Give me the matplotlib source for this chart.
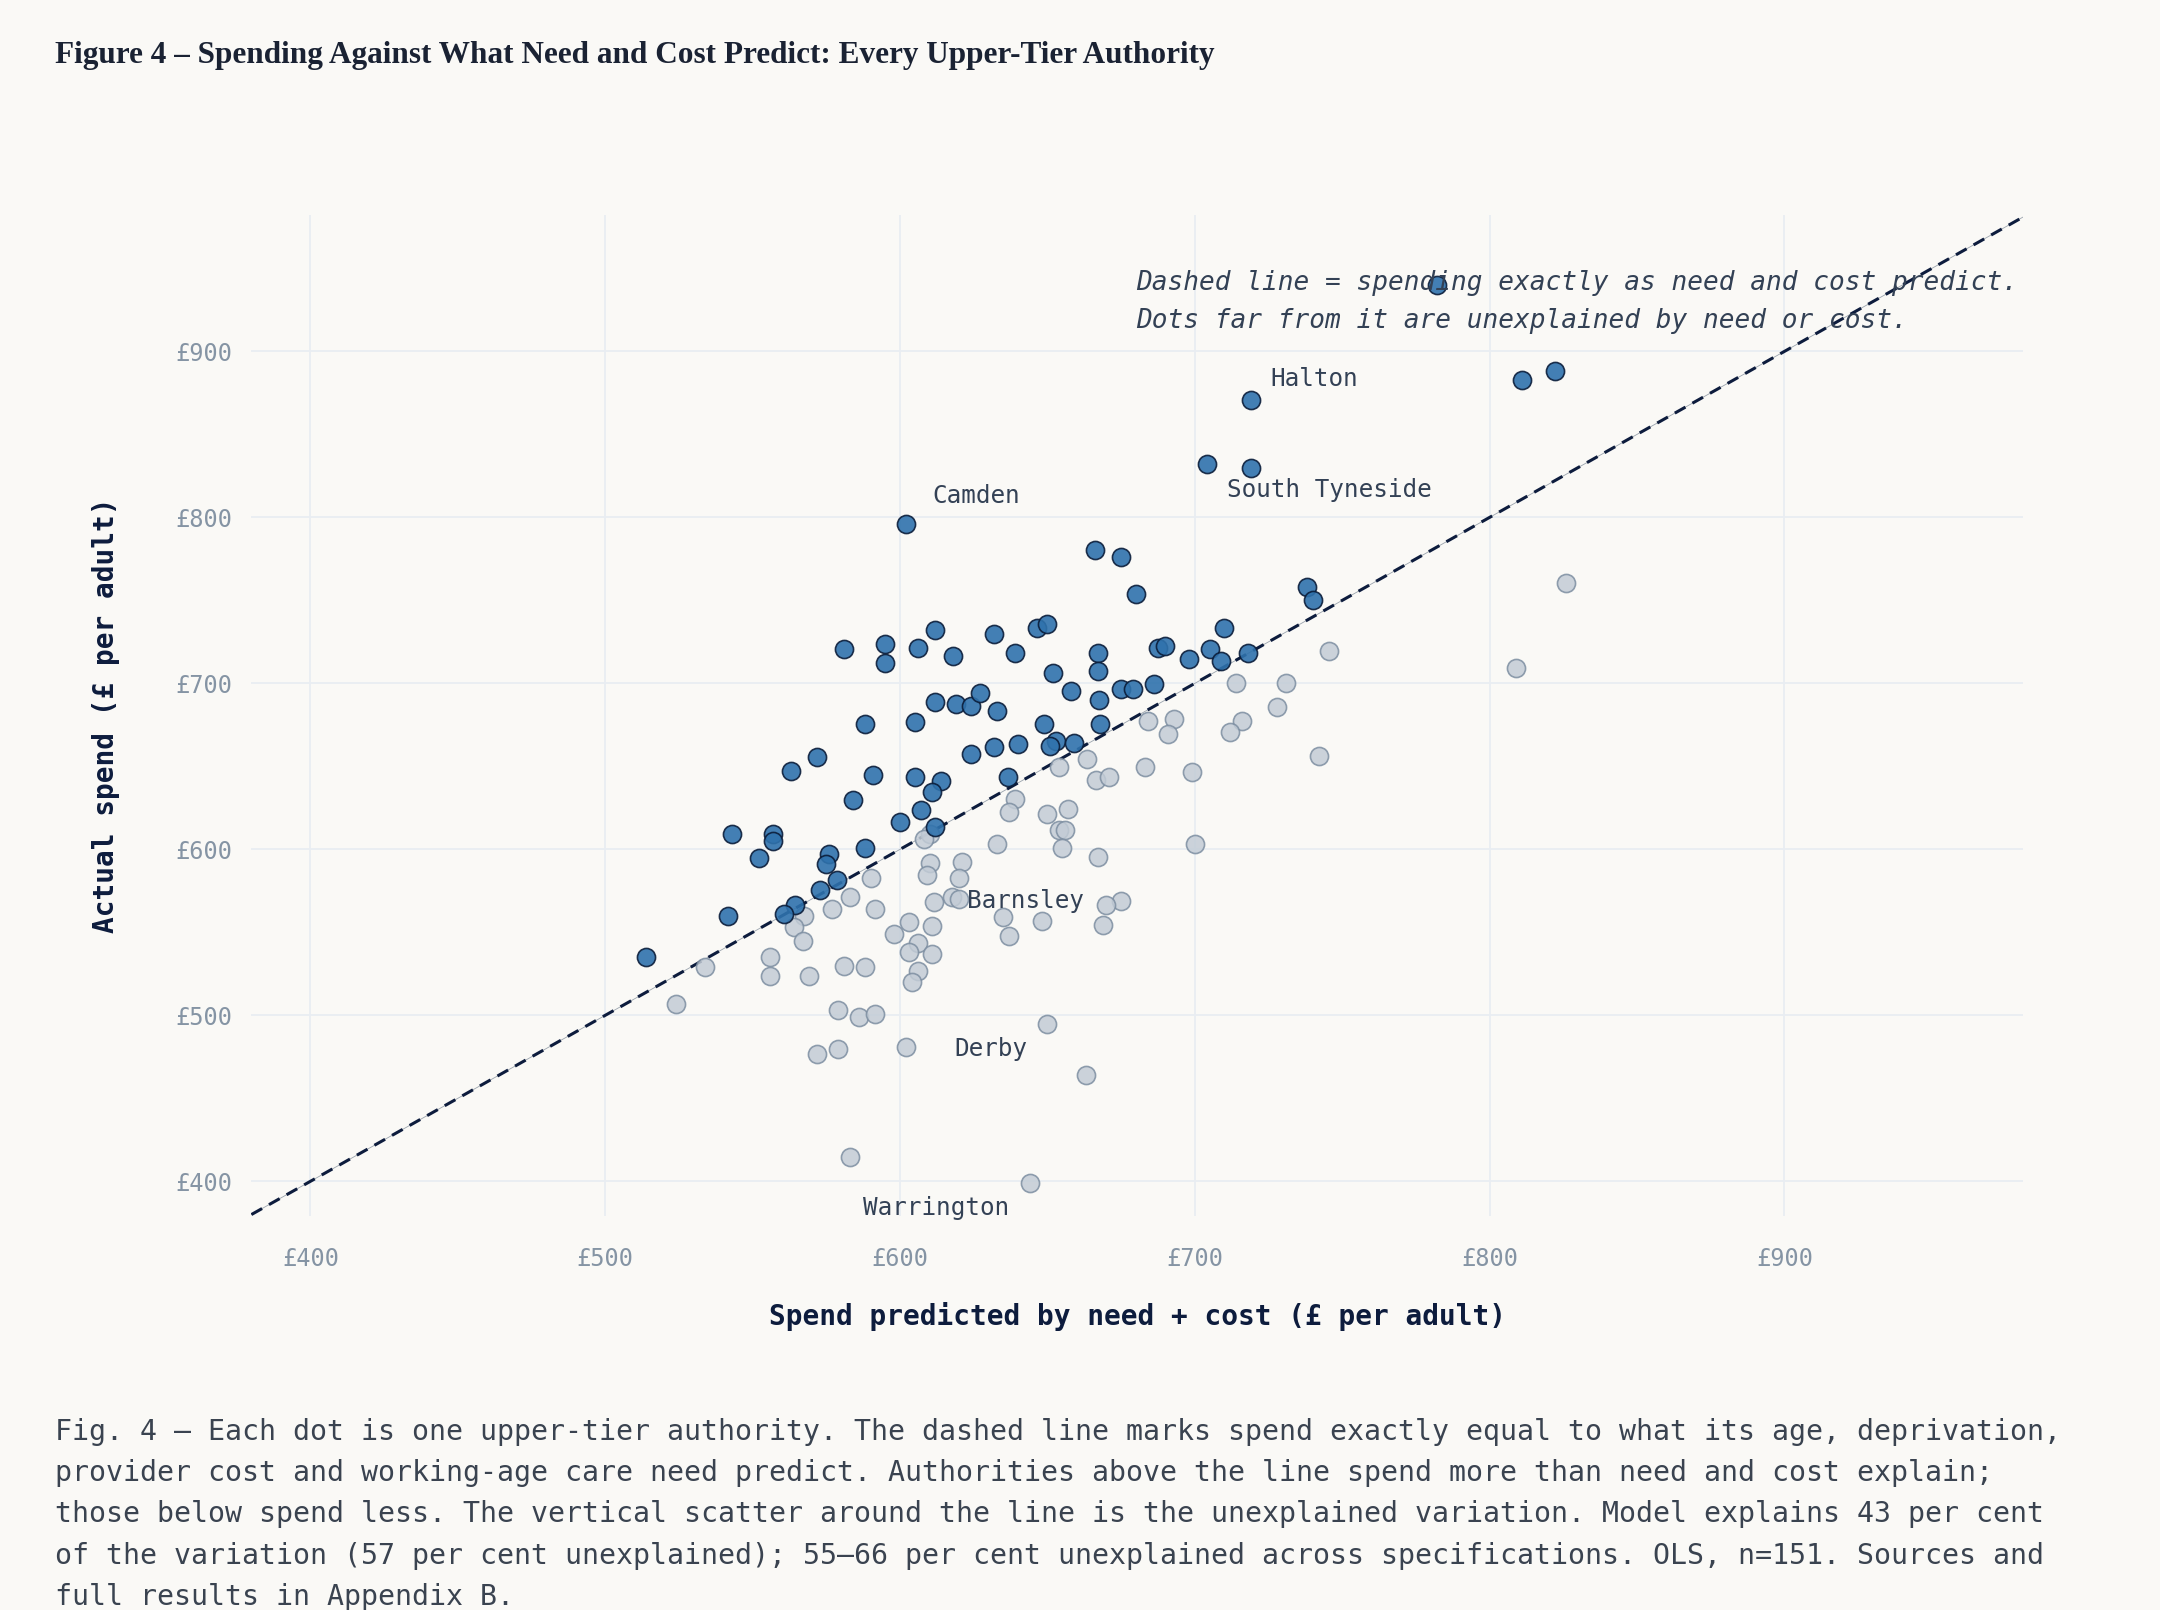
import matplotlib
matplotlib.use("Agg")
import matplotlib.pyplot as plt

# authorities spending more than need + cost predict (blue)
above_pred = [581, 595, 595, 606, 612, 618, 632, 639, 646.5, 650, 652, 658, 667, 667, 667.5, 668,
              612, 619, 624, 627, 633, 588, 605, 649, 653, 651, 659, 624, 632, 640, 572, 563,
              591, 605, 614, 611, 584, 607, 600, 612, 636.5, 543, 557, 557, 552, 588, 576, 575,
              578.5, 573, 564.5, 560.5, 541.5, 514, 675, 680, 675, 679, 686, 687.5, 690, 698,
              705, 709, 710, 718, 738, 740, 602, 666, 782, 719, 811, 822, 704, 719]
above_actual = [720.5, 724, 712, 721.5, 732, 716.5, 730, 718.5, 733.5, 736, 706.5, 695.5, 718.5, 707.5, 690, 675.5,
                688.5, 687.5, 686.5, 694, 683.5, 675.5, 676.5, 675.5, 665.5, 662.5, 664, 657.5, 661.5, 663.5, 655.5, 647.5,
                644.5, 643.5, 641, 634.5, 629.5, 623.5, 616.5, 613.5, 643.5, 609, 609, 605, 595, 601, 597, 591,
                581.5, 575.5, 566.5, 561, 560, 535, 776, 754, 696.5, 696.5, 699.5, 721.5, 722.5, 714.5,
                720.5, 713.5, 733.5, 718.5, 758, 750, 796, 780.5, 940, 871, 883, 888, 832, 830]

# authorities spending less than predicted (grey)
below_pred = [663.5, 654, 666.5, 639, 637, 650, 657, 654, 656, 655, 667, 633, 610, 608, 610, 621,
              609, 620, 590, 583, 577, 591.5, 567.5, 564, 567, 611.5, 617.5, 620, 603, 611, 598, 606,
              603, 611, 606, 604, 534, 556, 556, 569, 581, 588, 524, 579, 586, 591.5, 572, 579,
              602, 583, 644, 650, 663, 635, 637, 648, 826, 809, 745.5, 731, 714, 728, 716, 712,
              684, 693, 691, 742, 683, 699, 671, 700, 675, 670, 669]
below_actual = [654.5, 649.5, 641.5, 630.5, 622.5, 621.5, 624.5, 611.5, 611.5, 601, 595.5, 603.5, 609.5, 606, 591.5, 592.5,
                584.5, 583, 582.5, 571, 564, 564, 560, 553.5, 545, 568, 571, 570, 556, 554, 549, 543.5,
                538, 537, 527, 520, 529, 535, 524, 524, 530, 529, 507, 503, 499, 501, 477, 480,
                481, 414.5, 399, 495, 464, 559, 548, 557, 760.5, 709.5, 719.5, 700.5, 700.5, 685.5, 677.5, 670.5,
                677.5, 678.5, 669.5, 656.5, 649.5, 646.5, 643.5, 603.5, 569, 566.5, 554.5]

label_names = ["Camden", "Halton", "South Tyneside", "Barnsley", "Derby", "Warrington"]
label_pred = [602, 719, 719, 611, 650, 644]
label_actual = [796, 871, 830, 554, 495, 399]

ticks = [400, 500, 600, 700, 800, 900]
tick_labels = ["£400", "£500", "£600", "£700", "£800", "£900"]
lims = (380, 981)

title = "Figure 4 – Spending Against What Need and Cost Predict: Every Upper-Tier Authority"
note = ("Dashed line = spending exactly as need and cost predict.\n"
        "Dots far from it are unexplained by need or cost.")
caption = ("Fig. 4 – Each dot is one upper-tier authority. The dashed line marks spend exactly equal to what its age, deprivation,\n"
           "provider cost and working-age care need predict. Authorities above the line spend more than need and cost explain;\n"
           "those below spend less. The vertical scatter around the line is the unexplained variation. Model explains 43 per cent\n"
           "of the variation (57 per cent unexplained); 55–66 per cent unexplained across specifications. OLS, n=151. Sources and\n"
           "full results in Appendix B.")

BG = "#faf9f6"
NAVY = "#0d1c3d"
MONO = "DejaVu Sans Mono"

fig = plt.figure(figsize=(21.6, 16.1), dpi=100, facecolor=BG)
ax = fig.add_axes([0.1164, 0.2446, 0.8203, 0.6217], facecolor=BG)

ax.set_xlim(lims)
ax.set_ylim(379, 982)
ax.set_xticks(ticks)
ax.set_yticks(ticks)
ax.set_xticklabels(tick_labels)
ax.set_yticklabels(tick_labels)
ax.grid(True, color="#e9edf2", lw=1.3)
ax.set_axisbelow(True)
for s in ax.spines.values():
    s.set_visible(False)
ax.tick_params(length=0, labelsize=17, labelcolor="#8594a4")
ax.tick_params(axis="x", pad=22)
ax.tick_params(axis="y", pad=14)
for lab in ax.get_xticklabels() + ax.get_yticklabels():
    lab.set_family(MONO)

# 45 degree line: spend = prediction
ax.plot(lims, lims, color="#9aa3ad", lw=0.6, zorder=2)
ax.plot(lims, lims, color=NAVY, lw=2.2, dashes=(4, 2.6), zorder=2)

ax.scatter(below_pred, below_actual, s=170, c="#c3ccd6", edgecolors="#7d8ea1",
           linewidths=1.2, alpha=0.85, zorder=3)
ax.scatter(above_pred, above_actual, s=170, c="#2f72ad", edgecolors="#0b1d3a",
           linewidths=1.2, alpha=0.9, zorder=4)

offsets = {"Camden": (19, 20, "left"), "Halton": (14, 15, "left"),
           "South Tyneside": (-17, -16, "left"), "Barnsley": (25, 18, "left"),
           "Derby": (-14, -18, "right"), "Warrington": (-15, -18, "right")}
for name, px, py in zip(label_names, label_pred, label_actual):
    dx, dy, ha = offsets[name]
    ax.annotate(name, (px, py), xytext=(dx, dy), textcoords="offset points",
                ha=ha, va="center", fontsize=17.5, family=MONO, color="#334155", zorder=5)

ax.text(680, 929.8, note, ha="left", va="center", fontsize=18.85, family=MONO,
        style="italic", color="#334155", linespacing=1.62, zorder=5)

ax.set_xlabel("Spend predicted by need + cost (£ per adult)", fontsize=20, family=MONO,
              fontweight="bold", color=NAVY)
ax.set_ylabel("Actual spend (£ per adult)", fontsize=20, family=MONO,
              fontweight="bold", color=NAVY)
ax.xaxis.set_label_coords(0.5, -0.086)
ax.yaxis.set_label_coords(-0.0741, 0.5)

fig.text(55 / 2160, 1 - 55 / 1610, title, ha="left", va="center", fontsize=22.5,
         family="Liberation Serif", fontweight="bold", color="#1a2233")
fig.text(55 / 2160, 1 - 1418 / 1610, caption, ha="left", va="top", fontsize=20.3,
         family=MONO, color="#3a4350", linespacing=1.6)

fig.savefig("out.png", dpi=100, facecolor=BG)
